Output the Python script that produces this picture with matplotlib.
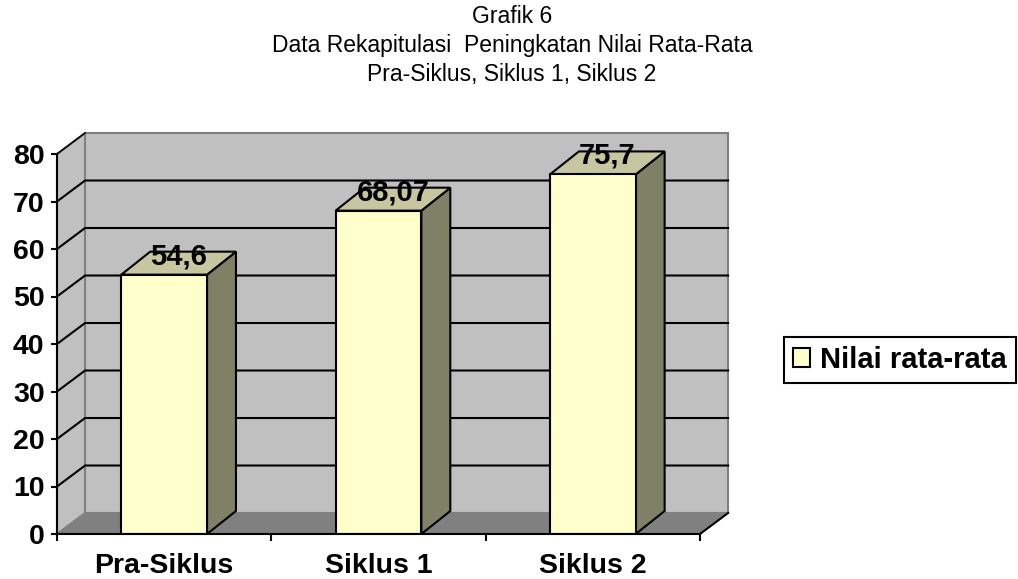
import matplotlib
matplotlib.use("Agg")
import matplotlib.pyplot as plt
from matplotlib.patches import Polygon, Patch

plt.rcParams['font.family'] = ['Liberation Sans', 'DejaVu Sans']

# data
categories = ["Pra-Siklus", "Siklus 1", "Siklus 2"]
values = [54.6, 68.07, 75.7]
series_name = "Nilai rata-rata"
yticks = [0, 10, 20, 30, 40, 50, 60, 70, 80]
title = "Grafik 6\nData Rekapitulasi  Peningkatan Nilai Rata-Rata\nPra-Siklus, Siklus 1, Siklus 2"

W, H = 1018, 579
fig = plt.figure(figsize=(W / 100, H / 100), dpi=100)
# front plane of the 3d box
ax = fig.add_axes([57 / W, 1 - 534 / H, 643 / W, 380 / H])
ax.set_xlim(-0.5, 2.5)
ax.set_ylim(0, 80)
ax.patch.set_visible(False)

# depth offsets (data units)
wdx, wdy = 0.131, 4.42   # walls
bdx, bdy = 0.135, 4.84   # bars
x0, x1 = -0.5, 2.5
ytop = yticks[-1]

wall = '#c0c0c0'
edge = '#808080'
# left wall, back wall, floor
ax.add_patch(Polygon([(x0, 0), (x0 + wdx, wdy), (x0 + wdx, ytop + wdy), (x0, ytop)],
                     closed=True, fc=wall, ec=edge, lw=1.5, clip_on=False, zorder=1))
ax.add_patch(Polygon([(x0 + wdx, wdy), (x1 + wdx, wdy), (x1 + wdx, ytop + wdy), (x0 + wdx, ytop + wdy)],
                     closed=True, fc=wall, ec=edge, lw=1.5, clip_on=False, zorder=1))
ax.add_patch(Polygon([(x0, 0), (x1, 0), (x1 + wdx, wdy), (x0 + wdx, wdy)],
                     closed=True, fc='#808080', ec='none', clip_on=False, zorder=1))
ax.plot([x1, x1 + wdx], [0, wdy], color='black', lw=1.5, clip_on=False, zorder=2)

# gridlines on walls
for v in yticks[1:-1]:
    ax.plot([x0, x0 + wdx, x1 + wdx], [v, v + wdy, v + wdy], color='black', lw=1.5,
            clip_on=False, zorder=2)
ax.plot([x0, x0 + wdx], [ytop, ytop + wdy], color='black', lw=1.2, clip_on=False, zorder=2)

# bars
xs = list(range(len(categories)))
bw = 0.4
ax.bar(xs, values, width=bw, color='#ffffcc', edgecolor='black', linewidth=1.5, zorder=4,
       label=series_name)
for x, v in zip(xs, values):
    r = x + bw / 2
    l = x - bw / 2
    ax.add_patch(Polygon([(r, 0), (r + bdx, bdy), (r + bdx, v + bdy), (r, v)], closed=True,
                         fc='#808066', ec='black', lw=1.5, clip_on=False, zorder=3))
    ax.add_patch(Polygon([(l, v), (r, v), (r + bdx, v + bdy), (l + bdx, v + bdy)], closed=True,
                         fc='#c6c6a0', ec='black', lw=1.5, clip_on=False, zorder=3))
    ax.text(x + bdx / 2, v + bdy / 2 - 0.2, str(v).replace('.', ','), ha='center', va='baseline',
            fontsize=21, fontweight='bold', zorder=6, clip_on=False)

# axes
for s in ['top', 'right']:
    ax.spines[s].set_visible(False)
for s in ['left', 'bottom']:
    ax.spines[s].set_linewidth(1.5)
    ax.spines[s].set_zorder(5)
ax.set_yticks(yticks)
ax.tick_params(axis='y', length=4, width=1.5, pad=5, labelsize=20.5)
for t in ax.get_yticklabels():
    t.set_fontweight('bold')
ax.set_xticks(xs)
ax.set_xticklabels(categories, fontsize=20.5, fontweight='bold')
ax.set_xticks([-0.5, 0.5, 1.5, 2.5], minor=True)
ax.tick_params(axis='x', which='major', length=0, pad=14)
ax.tick_params(axis='x', which='minor', length=5, width=1.5)

fig.text(512 / W, 1 - 5 / H, title, ha='center', va='top', fontsize=16.5, linespacing=1.33)

leg = fig.legend(handles=[Patch(fc='#ffffcc', ec='black', lw=1.5)], labels=[series_name],
                 loc='center left', bbox_to_anchor=(784 / W, 1 - 360 / H), fancybox=False,
                 edgecolor='black', framealpha=1, handlelength=0.6, handleheight=0.6,
                 handletextpad=0.35, borderpad=0.3, borderaxespad=0,
                 prop={'size': 21, 'weight': 'bold'})
leg.get_frame().set_linewidth(1.5)

fig.savefig("out.png", dpi=100)
